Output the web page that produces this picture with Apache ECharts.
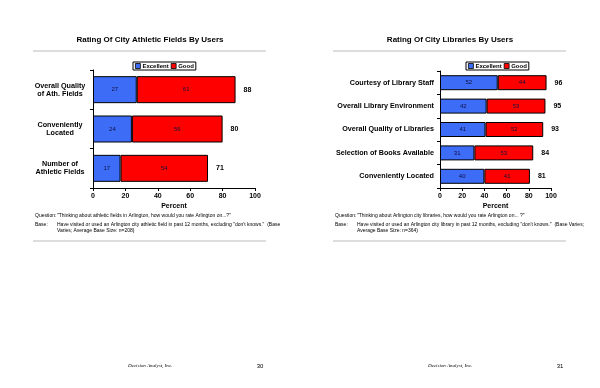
<!DOCTYPE html>
<html><head><meta charset="utf-8">
<script src="https://cdn.jsdelivr.net/npm/echarts@6/dist/echarts.min.js"></script>
<style>html,body{margin:0;padding:0;background:#fff}#c{width:600px;height:388px}</style>
</head><body><div id="c"></div>
<script>
// Left chart: athletic fields
var fieldCats = ['Overall Quality\nof Ath. Fields', 'Conveniently\nLocated', 'Number of\nAthletic Fields'];
var fieldExcellent = [27, 24, 17];
var fieldGood = [61, 56, 54];
var fieldTotal = [88, 80, 71];
// Right chart: libraries
var libCats = ['Courtesy of Library Staff', 'Overall Library Environment', 'Overall Quality of Libraries', 'Selection of Books Available', 'Conveniently Located'];
var libExcellent = [52, 42, 41, 31, 40];
var libGood = [44, 53, 52, 53, 41];
var libTotal = [96, 95, 93, 84, 81];
var xTicks = [0, 20, 40, 60, 80, 100];

var BLUE = '#3d6cf6', RED = '#ff0000', FONT = 'Liberation Sans';
var chart = echarts.init(document.getElementById('c'));

function xAxis(idx) {
  return {
    gridIndex: idx, type: 'value', min: 0, max: 100, interval: 20,
    name: 'Percent', nameLocation: 'middle', nameGap: 15,
    nameTextStyle: {fontFamily: FONT, fontSize: 7, fontWeight: 'bold', color: '#000'},
    axisLine: {show: true, lineStyle: {color: '#000', width: 1}},
    axisTick: {show: true, length: 3, lineStyle: {color: '#000'}},
    axisLabel: {fontFamily: FONT, fontSize: 7, fontWeight: 'bold', color: '#000', margin: 5,
      formatter: function (v) { return xTicks.indexOf(v) >= 0 ? String(v) : ''; }},
    splitLine: {show: false}
  };
}
function yAxis(idx, cats, fs, lh, centered) {
  var lbl = {fontFamily: FONT, fontSize: fs, fontWeight: 'bold', color: '#000', margin: 6, lineHeight: lh, align: 'right'};
  if (centered) {
    lbl.formatter = function (v) { return v.split('\n').map(function (l) { return '{a|' + l + '}'; }).join('\n'); };
    lbl.rich = {a: {width: 54, align: 'center', fontFamily: FONT, fontSize: fs, fontWeight: 'bold', color: '#000', lineHeight: lh}};
  }
  return {
    gridIndex: idx, type: 'category', data: cats, inverse: true,
    axisLine: {show: true, lineStyle: {color: '#000', width: 1}},
    axisTick: {show: true, length: 3, lineStyle: {color: '#000'}},
    axisLabel: lbl
  };
}
function inside() {
  return {show: true, position: 'inside', fontFamily: FONT, fontSize: 6, color: '#101040', formatter: '{c}'};
}
function hr(x1, x2, y) {
  return {type: 'line', shape: {x1: x1, y1: y, x2: x2, y2: y}, style: {stroke: '#bbbbbb', lineWidth: 1}, silent: true};
}
function txt(x, y, t, opt) {
  var st = Object.assign({text: t, x: x, y: y, fill: '#000', font: '5px ' + FONT}, opt || {});
  return {type: 'text', style: st, silent: true};
}
function goodSeries(xi, data, totals, bw) {
  return [
    {name: 'Good', type: 'bar', stack: 'st' + xi, xAxisIndex: xi, yAxisIndex: xi, data: data, barWidth: bw,
      itemStyle: {color: RED, borderColor: '#000', borderWidth: 1}, label: inside()},
    {name: 'total', type: 'bar', stack: 'st' + xi, xAxisIndex: xi, yAxisIndex: xi,
      data: totals.map(function () { return 0; }), barWidth: bw,
      itemStyle: {color: 'transparent'}, tooltip: {show: false},
      label: {show: true, position: 'right', distance: 8, fontFamily: FONT, fontSize: 7, fontWeight: 'bold', color: '#000',
        formatter: function (p) { return String(totals[p.dataIndex]); }}}
  ];
}
function legend(left) {
  return {data: ['Excellent', 'Good'], left: left, top: 62, orient: 'horizontal', borderColor: '#000', borderWidth: 1,
    padding: [1, 2], itemWidth: 5, itemHeight: 5, itemGap: 2, icon: 'rect',
    itemStyle: {borderColor: '#000', borderWidth: 0.8},
    textStyle: {fontFamily: FONT, fontSize: 6, fontWeight: 'bold', color: '#000', padding: [0, 0, 0, -3]}};
}

var option = {
  backgroundColor: '#fff',
  animation: false,
  grid: [
    {left: 93, top: 70, width: 162, height: 118},
    {left: 440, top: 71, width: 111, height: 117}
  ],
  legend: [legend(133), legend(466)],
  xAxis: [xAxis(0), xAxis(1)],
  yAxis: [yAxis(0, fieldCats, 7.2, 8, true), yAxis(1, libCats, 7.2, 10, false)],
  series: [
    {name: 'Excellent', type: 'bar', stack: 'st0', xAxisIndex: 0, yAxisIndex: 0, data: fieldExcellent, barWidth: 27,
      itemStyle: {color: BLUE, borderColor: '#000', borderWidth: 1}, label: inside()}
  ].concat(goodSeries(0, fieldGood, fieldTotal, 27)).concat([
    {name: 'Excellent', type: 'bar', stack: 'st1', xAxisIndex: 1, yAxisIndex: 1, data: libExcellent, barWidth: 15,
      itemStyle: {color: BLUE, borderColor: '#000', borderWidth: 1}, label: inside()}
  ]).concat(goodSeries(1, libGood, libTotal, 15)),
  graphic: [
    txt(150, 40, 'Rating Of City Athletic Fields By Users', {font: 'bold 8px ' + FONT, align: 'center', verticalAlign: 'middle'}),
    txt(450, 40, 'Rating Of City Libraries By Users', {font: 'bold 8px ' + FONT, align: 'center', verticalAlign: 'middle'}),
    hr(33, 266, 51), hr(333, 566, 51),
    txt(35, 213, 'Question:'),
    txt(57, 213, '"Thinking about athletic fields in Arlington, how would you rate Arlington on...?"'),
    txt(35, 222, 'Base:'),
    txt(57, 222, 'Have visited or used an Arlington city athletic field in past 12 months, excluding "don\'t knows."  (Base'),
    txt(57, 228, 'Varies; Average Base Size: n=208)'),
    txt(335, 213, 'Question:'),
    txt(357, 213, '"Thinking about Arlington city libraries, how would you rate Arlington on... ?"'),
    txt(335, 222, 'Base:'),
    txt(357, 222, 'Have visited or used an Arlington city library in past 12 months, excluding "don\'t knows."  (Base Varies;'),
    txt(357, 228, 'Average Base Size: n=364)'),
    hr(33, 266, 241), hr(333, 566, 241),
    txt(128, 366, 'Decision Analyst, Inc.', {font: 'italic 5px "Liberation Serif"', verticalAlign: 'middle'}),
    txt(260, 366, '30', {font: '6px ' + FONT, align: 'center', verticalAlign: 'middle'}),
    txt(428, 366, 'Decision Analyst, Inc.', {font: 'italic 5px "Liberation Serif"', verticalAlign: 'middle'}),
    txt(560, 366, '31', {font: '6px ' + FONT, align: 'center', verticalAlign: 'middle'})
  ]
};
chart.setOption(option);
</script>
</body></html>
